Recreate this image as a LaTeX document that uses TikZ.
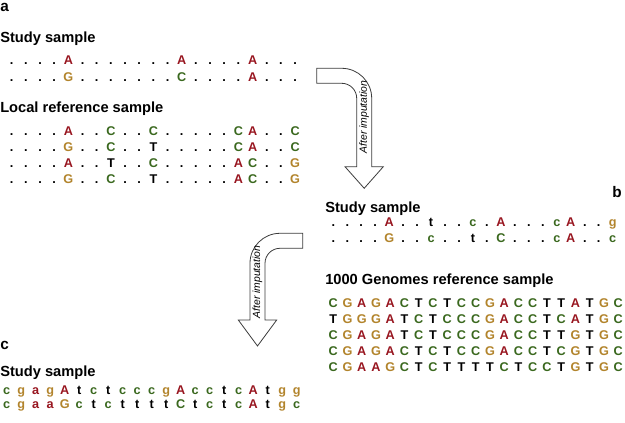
\documentclass[tikz,border=0pt]{standalone}
\usepackage{fontspec}
\setmainfont{Liberation Sans}
\definecolor{baseA}{RGB}{152,22,32}
\definecolor{baseG}{RGB}{178,132,44}
\definecolor{baseC}{RGB}{58,104,30}
\definecolor{arrowline}{RGB}{60,60,60}

\begin{document}
\begin{tikzpicture}[x=0.75pt, y=-0.75pt]
    \tikzstyle{heading}=[anchor=base west, inner sep=0pt, font=\fontsize{11}{13}\selectfont\bfseries]
    \tikzstyle{panel}=[anchor=base west, inner sep=0pt, font=\fontsize{11.5}{13}\selectfont\bfseries]
    \tikzstyle{base}=[anchor=base, inner sep=0pt, font=\fontsize{9.5}{11}\selectfont\bfseries]
    \tikzstyle{bigarrow}=[draw=arrowline, fill=white, line width=0.6pt, line join=miter]
    \tikzstyle{arrowtext}=[rotate=90, inner sep=0pt, font=\fontsize{7.8}{9}\selectfont\itshape]
    \tikzstyle{nt A}=[text=baseA] \tikzstyle{nt a}=[text=baseA]
    \tikzstyle{nt G}=[text=baseG] \tikzstyle{nt g}=[text=baseG]
    \tikzstyle{nt C}=[text=baseC] \tikzstyle{nt c}=[text=baseC]
    \tikzstyle{nt T}=[text=black] \tikzstyle{nt t}=[text=black]
    \tikzstyle{nt .}=[text=black]

    \useasboundingbox (0,0) rectangle (625,423);

    % panel a
    \node[panel] (labA) at (0,11.5) {a};
    \node[heading] (studyA) at (0,43) {Study sample};
    \foreach \row [count=\r] in {{.,.,.,.,A,.,.,.,.,.,.,.,A,.,.,.,.,A,.,.,.},
                                 {.,.,.,.,G,.,.,.,.,.,.,.,C,.,.,.,.,A,.,.,.}}
        \foreach \b [count=\i from 0] in \row
            \node[base, nt \b] (sa\r-\i) at ({11.7+\i*14.17}, {48+\r*17}) {\b};

    \node[heading] (localA) at (0,113) {Local reference sample};
    \foreach \row [count=\r] in {{.,.,.,.,A,.,.,C,.,.,C,.,.,.,.,.,C,A,.,.,C},
                                 {.,.,.,.,G,.,.,C,.,.,T,.,.,.,.,.,C,A,.,.,C},
                                 {.,.,.,.,A,.,.,T,.,.,C,.,.,.,.,.,A,C,.,.,G},
                                 {.,.,.,.,G,.,.,C,.,.,T,.,.,.,.,.,A,C,.,.,G}}
        \foreach \b [count=\i from 0] in \row
            \node[base, nt \b] (la\r-\i) at ({11.7+\i*14.17}, {120+\r*16}) {\b};

    % first bent arrow
    \draw[bigarrow] (316.7,68.3) -- (341.7,68.3)
        .. controls (358.3,68.3) and (371.7,81.7) .. (371.7,98.3)
        -- (371.7,166.7) -- (383.3,166.7) -- (364.2,188.3) -- (345,166.7)
        -- (356.7,166.7) -- (356.7,98.3)
        .. controls (356.7,90) and (350,83.3) .. (341.7,83.3)
        -- (316.7,83.3) -- cycle;
    \node[arrowtext] (imp1) at (364.2,117) {After imputation};

    % panel b
    \node[panel] (labB) at (612,198) {b};
    \node[heading] (studyB) at (325,213) {Study sample};
    \foreach \row [count=\r] in {{.,.,.,.,A,.,.,t,.,.,c,.,A,.,.,.,c,A,.,.,g},
                                 {.,.,.,.,G,.,.,c,.,.,t,.,C,.,.,.,c,A,.,.,c}}
        \foreach \b [count=\i from 0] in \row
            \node[base, nt \b] (sb\r-\i) at ({333.3+\i*13.97}, {211+\r*16}) {\b};

    \node[heading] (genomes) at (325,285) {1000 Genomes reference sample};
    \foreach \row [count=\r] in {{C,G,A,G,A,C,T,C,T,C,C,G,A,C,C,T,T,A,T,G,C},
                                 {T,G,G,G,A,T,C,T,C,C,C,G,A,C,C,T,C,A,T,G,C},
                                 {C,G,A,G,A,T,C,T,C,C,C,G,A,C,C,T,T,G,T,G,C},
                                 {C,G,A,G,A,C,T,C,T,C,C,G,A,C,C,T,C,G,T,G,C},
                                 {C,G,A,A,G,C,T,C,T,T,T,T,C,T,C,C,T,G,T,G,C}}
        \foreach \b [count=\i from 0] in \row
            \node[base, nt \b] (gb\r-\i) at ({333.3+\i*14.25}, {291.5+\r*16}) {\b};

    % second bent arrow
    \draw[bigarrow] (302.7,233.3) -- (280,233.3)
        .. controls (263.4,233.3) and (250,246.7) .. (250,263.3)
        -- (250,320) -- (238.3,320) -- (257.5,346) -- (276.7,320)
        -- (265,320) -- (265,263.3)
        .. controls (265,255) and (271.7,248.3) .. (280,248.3)
        -- (302.7,248.3) -- cycle;
    \node[arrowtext] (imp2) at (257.5,282) {After imputation};

    % panel c
    \node[panel] (labC) at (0,350) {c};
    \node[heading] (studyC) at (0,377) {Study sample};
    \foreach \row [count=\r] in {{c,g,a,g,A,t,c,t,c,c,c,g,A,c,c,t,c,A,t,g,g},
                                 {c,g,a,a,G,c,t,c,t,t,t,t,C,t,c,t,c,A,t,g,c}}
        \foreach \b [count=\i from 0] in \row
            \node[base, nt \b] (sc\r-\i) at ({6.7+\i*14.5}, {381+\r*14}) {\b};
\end{tikzpicture}
\end{document}
